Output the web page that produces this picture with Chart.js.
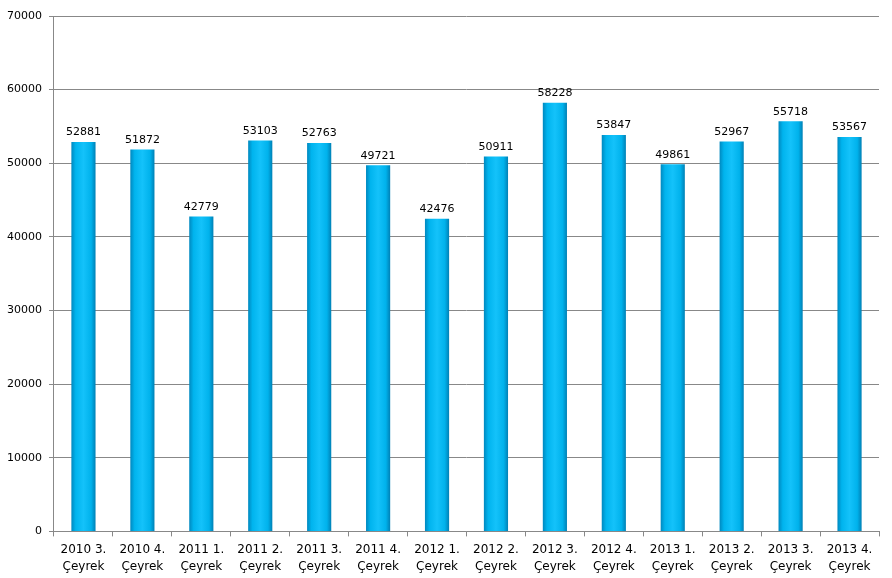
<!DOCTYPE html>
<html>
<head>
<meta charset="utf-8">
<script src="https://cdn.jsdelivr.net/npm/chart.js@4/dist/chart.umd.min.js"></script>
<style>
  html, body { margin: 0; padding: 0; background: #fff; }
  #wrap { width: 892px; height: 578px; }
</style>
</head>
<body>
<div id="wrap"><canvas id="chart"></canvas></div>
<script>
const labels = [
    ["2010 3.", "Çeyrek"],
    ["2010 4.", "Çeyrek"],
    ["2011 1.", "Çeyrek"],
    ["2011 2.", "Çeyrek"],
    ["2011 3.", "Çeyrek"],
    ["2011 4.", "Çeyrek"],
    ["2012 1.", "Çeyrek"],
    ["2012 2.", "Çeyrek"],
    ["2012 3.", "Çeyrek"],
    ["2012 4.", "Çeyrek"],
    ["2013 1.", "Çeyrek"],
    ["2013 2.", "Çeyrek"],
    ["2013 3.", "Çeyrek"],
    ["2013 4.", "Çeyrek"]
];
const values = [52881, 51872, 42779, 53103, 52763, 49721, 42476, 50911, 58228, 53847, 49861, 52967, 55718, 53567];

// horizontal gradient per bar, to get the rounded look
function barFill(context) {
    const chart = context.chart;
    const el = context.element;
    if (!el || !el.width) return "#00b4ee";
    const x0 = el.x - el.width / 2;
    const x1 = el.x + el.width / 2;
    const g = chart.ctx.createLinearGradient(x0, 0, x1, 0);
    g.addColorStop(0, "#0088bf");
    g.addColorStop(0.18, "#00b4ee");
    g.addColorStop(0.5, "#14c2fa");
    g.addColorStop(0.82, "#00b2ec");
    g.addColorStop(1, "#0080b5");
    return g;
}

const valueLabels = {
    id: "valueLabels",
    afterDatasetsDraw(chart) {
        const ctx = chart.ctx;
        const meta = chart.getDatasetMeta(0);
        ctx.save();
        ctx.font = "11px 'DejaVu Sans'";
        ctx.fillStyle = "#000";
        ctx.textAlign = "center";
        ctx.textBaseline = "bottom";
        meta.data.forEach((bar, i) => {
            ctx.fillText(String(values[i]), bar.x, bar.y - 4);
        });
        ctx.restore();
    }
};

const chart = new Chart(document.getElementById("chart"), {
    type: "bar",
    data: {
        labels: labels,
        datasets: [{
            data: values,
            backgroundColor: barFill,
            borderWidth: 0,
            barPercentage: 0.41,
            categoryPercentage: 1
        }]
    },
    plugins: [valueLabels],
    options: {
        responsive: true,
        maintainAspectRatio: false,
        animation: false,
        layout: { padding: { top: 16, right: 13, left: 0, bottom: -2 } },
        plugins: {
            legend: { display: false },
            tooltip: { enabled: false }
        },
        scales: {
            x: {
                grid: { display: true, drawOnChartArea: false, offset: true, tickLength: 5, color: "#888" },
                border: { color: "#888" },
                ticks: { color: "#000", font: { family: "DejaVu Sans", size: 12, lineHeight: 1.4 }, maxRotation: 0, padding: 5 }
            },
            y: {
                min: 0,
                max: 70000,
                grid: { color: "#888", tickLength: 5 },
                border: { color: "#888" },
                ticks: {
                    stepSize: 10000,
                    color: "#000",
                    font: { family: "DejaVu Sans", size: 11 },
                    padding: 7,
                    callback: (v) => String(v)
                }
            }
        }
    }
});
// second pass so the gradients can use the bar positions
chart.update();
</script>
</body>
</html>
